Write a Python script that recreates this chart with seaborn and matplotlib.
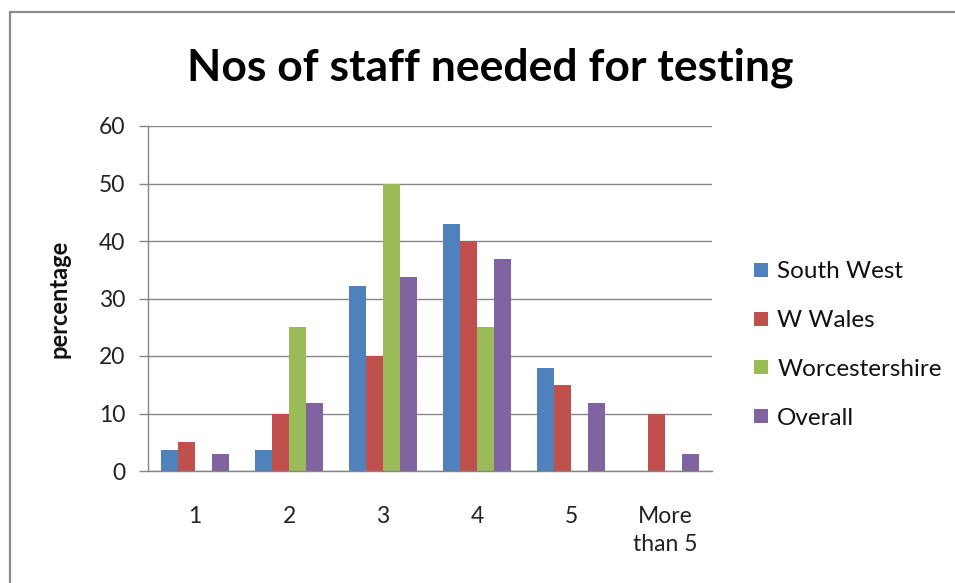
import seaborn as sns
import pandas as pd
import numpy as np
import matplotlib
matplotlib.use("Agg")
import matplotlib.pyplot as plt
from matplotlib.lines import Line2D

categories = ["1", "2", "3", "4", "5", "More\nthan 5"]
south_west = [3.6, 3.6, 32.1, 42.9, 17.9, 0]
w_wales = [5, 10, 20, 40, 15, 10]
worcestershire = [0, 25, 50, 25, 0, 0]
overall = [2.9, 11.8, 33.8, 36.8, 11.8, 2.9]
series_names = ["South West", "W Wales", "Worcestershire", "Overall"]
colors = ["#4F81BD", "#C0504D", "#9BBB59", "#8064A2"]

rows = []
for name, vals in zip(series_names, [south_west, w_wales, worcestershire, overall]):
    for c, v in zip(categories, vals):
        rows.append({"cat": c, "series": name, "value": v})
df = pd.DataFrame(rows)

sns.set_style("white")
plt.rcParams['font.family'] = ['Lato', 'DejaVu Sans']
plt.rcParams['text.color'] = "#111111"
plt.rcParams['xtick.color'] = "#222222"
plt.rcParams['ytick.color'] = "#222222"

fig = plt.figure(figsize=(9.55, 5.83), dpi=100)
ax = fig.add_axes([148/955, 1-471/583, 564/955, 345/583])

sns.barplot(data=df, x="cat", y="value", hue="series", order=categories,
            hue_order=series_names, palette=colors, width=0.72, gap=0,
            saturation=1, linewidth=0, ax=ax)

ax.set_ylim(0, 60)
ax.set_yticks(np.arange(0, 61, 10))
ax.set_xlim(-0.5, 5.5)
ax.grid(axis="y", color="#868686", linewidth=1.0)
ax.set_axisbelow(True)
sns.despine(ax=ax)
for s in ["left", "bottom"]:
    ax.spines[s].set_color("#868686")
    ax.spines[s].set_linewidth(1.0)

ax.tick_params(axis="y", length=6.5, width=1.0, color="#868686", pad=10,
               labelsize=16.5, left=True)
ax.tick_params(axis="x", length=0, pad=25, labelsize=16.5)
for lab in ax.get_xticklabels():
    lab.set_linespacing(1.45)

ax.set_xlabel("")
ax.set_ylabel("percentage", fontsize=17, fontweight="bold", color="#111111")
ax.yaxis.set_label_coords(-0.137, 0.5)

ax.get_legend().remove()
handles = [Line2D([], [], marker="s", linestyle="", markersize=10,
                  markerfacecolor=c, markeredgewidth=0) for c in colors]
fig.legend(handles, series_names, loc="center left",
           bbox_to_anchor=(731/955, 1-345/583), frameon=False, fontsize=17.5,
           labelspacing=1.15, handlelength=0.7, handletextpad=0.3)

fig.text(490/955, 1-68/583, "Nos of staff needed for testing", ha="center",
         va="center", fontsize=32, fontweight="bold", color="black")

# outer frame (top and left only)
fig.add_artist(Line2D([10/955, 1], [1-12/583, 1-12/583], color="#8a8a8a", linewidth=1.6))
fig.add_artist(Line2D([10/955, 10/955], [0, 1-12/583], color="#8a8a8a", linewidth=1.6))

fig.savefig("out.png", dpi=100)
